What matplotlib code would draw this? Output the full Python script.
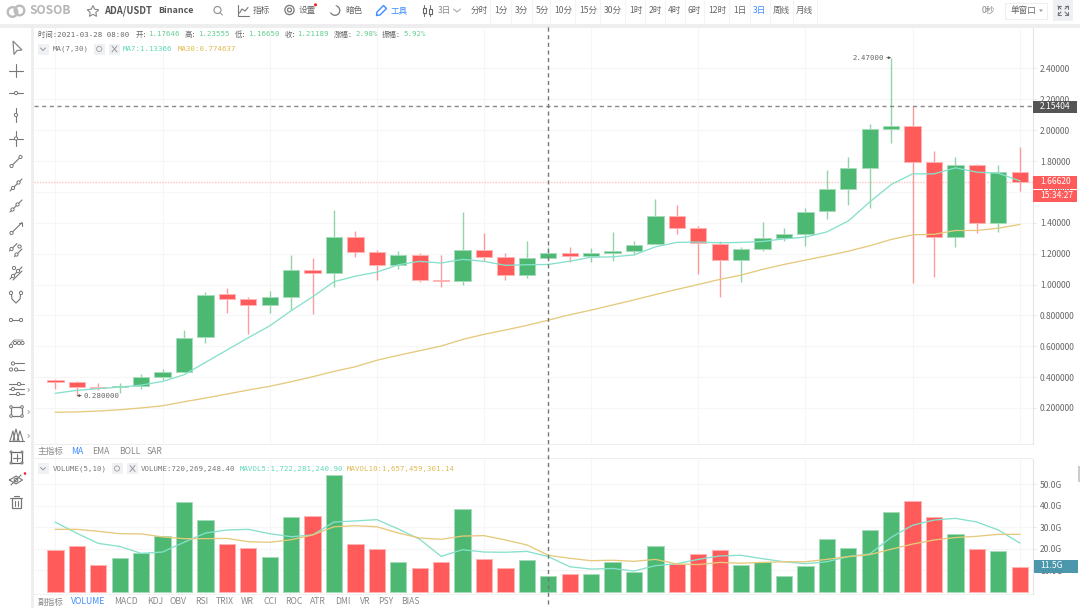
import matplotlib
matplotlib.use('Agg')
import matplotlib.pyplot as plt
from matplotlib.patches import Rectangle, Circle, Polygon

plt.rcParams['font.family'] = ['Noto Sans CJK SC', 'DejaVu Sans']

# candles, index 0 is the oldest bar
opens = [.378, .368, .337, .335, .344, .402, .435, .657, .936, .905, .865, .920, 1.091, 1.074, 1.305, 1.208,
         1.124, 1.192, 1.030, 1.024, 1.223, 1.179, 1.063, 1.171, 1.205, 1.186, 1.205, 1.216, 1.260, 1.443, 1.363,
         1.260, 1.156, 1.232, 1.303, 1.325, 1.475, 1.616, 1.758, 2.005, 2.026, 1.795, 1.309, 1.773, 1.398, 1.730]
closes = [.368, .337, .329, .342, .400, .432, .653, .929, .907, .865, .918, 1.091, 1.072, 1.305, 1.208, 1.124,
          1.192, 1.028, 1.024, 1.223, 1.179, 1.063, 1.171, 1.205, 1.186, 1.205, 1.214, 1.257, 1.443, 1.363, 1.266,
          1.156, 1.232, 1.301, 1.325, 1.473, 1.618, 1.756, 2.005, 2.026, 1.797, 1.309, 1.773, 1.398, 1.730, 1.663]
highs = [.387, .372, .363, .363, .420, .452, .703, .949, .977, .916, .957, 1.192, 1.171, 1.482, 1.346, 1.223,
         1.216, 1.203, 1.190, 1.467, 1.335, 1.203, 1.283, 1.240, 1.244, 1.236, 1.339, 1.283, 1.553, 1.514, 1.378,
         1.283, 1.244, 1.402, 1.365, 1.493, 1.745, 1.825, 2.039, 2.470, 2.154, 1.864, 1.825, 1.784, 1.773, 1.888]
lows = [.325, .280, .316, .299, .325, .379, .435, .622, .817, .681, .817, .834, .806, .985, 1.176, 1.028,
        1.102, 1.015, .981, .994, 1.153, 1.028, 1.041, 1.150, 1.147, 1.147, 1.153, 1.190, 1.260, 1.328, 1.067,
        .918, 1.018, 1.218, 1.279, 1.251, 1.424, 1.514, 1.497, 1.914, 1.007, 1.046, 1.242, 1.335, 1.341, 1.607]
ma7 = [.295, .314, .325, .335, .348, .372, .415, .495, .575, .655, .732, .830, .920, 1.018, 1.054, 1.080,
       1.128, 1.150, 1.139, 1.163, 1.150, 1.124, 1.128, 1.130, 1.151, 1.177, 1.179, 1.192, 1.244, 1.273, 1.275,
       1.270, 1.273, 1.279, 1.296, 1.307, 1.341, 1.412, 1.535, 1.648, 1.717, 1.717, 1.756, 1.728, 1.721, 1.672]
ma30 = [.172, .174, .180, .188, .200, .214, .240, .264, .290, .316, .340, .370, .402, .437, .467, .509,
        .541, .571, .601, .644, .677, .705, .735, .769, .804, .834, .867, .900, .935, .968, 1.000,
        1.033, 1.061, 1.098, 1.130, 1.158, 1.186, 1.216, 1.251, 1.292, 1.322, 1.325, 1.350, 1.350, 1.365, 1.389]

# volume pane, in G
volumes = [19.3, 21.5, 12.5, 15.9, 17.9, 26.1, 41.5, 33.2, 22.4, 20.2, 16.2, 34.7, 35.3, 54.0, 22.1, 19.9,
           13.7, 11.3, 13.7, 38.3, 15.3, 11.3, 15.0, 7.4, 8.5, 8.5, 13.7, 9.1, 21.1, 13.0, 17.7,
           19.3, 12.5, 13.7, 7.4, 12.2, 24.5, 20.2, 28.5, 37.0, 42.3, 34.6, 27.0, 19.9, 19.0, 11.5]
mavol5 = [32.3, 27.2, 22.5, 21.1, 17.9, 18.5, 23.0, 27.3, 28.7, 29.0, 27.0, 25.6, 26.4, 32.4, 32.9, 33.5,
          29.2, 24.4, 16.5, 19.6, 18.5, 18.4, 18.8, 16.4, 11.7, 10.6, 10.9, 9.7, 12.2, 13.1, 15.1,
          16.7, 17.0, 15.4, 14.0, 13.1, 14.0, 16.4, 17.6, 25.3, 30.9, 33.3, 34.1, 32.4, 28.7, 22.7]
mavol10 = [29.0, 29.0, 28.1, 27.0, 26.9, 25.5, 24.7, 24.7, 24.8, 23.3, 23.0, 24.2, 26.4, 30.2, 30.7, 30.2,
           27.3, 25.0, 24.4, 25.9, 26.1, 24.1, 21.8, 17.0, 15.6, 14.5, 14.7, 14.2, 15.1, 13.0, 12.7,
           13.7, 13.3, 13.7, 14.0, 14.0, 15.1, 16.4, 17.3, 19.8, 22.2, 24.1, 25.2, 25.8, 26.7, 26.7]

price_ticks = [0.2, 0.4, 0.6, 0.8, 1.0, 1.2, 1.4, 1.6, 1.8, 2.0, 2.2, 2.4]
price_tick_labels = ['0.200000', '0.400000', '0.600000', '0.800000', '1.00000', '1.20000',
                     '1.40000', '1.60000', '1.80000', '2.00000', '2.20000', '2.40000']
volume_ticks = [10, 20, 30, 40, 50]
volume_tick_labels = ['10.0G', '20.0G', '30.0G', '40.0G', '50.0G']
max_high = 2.47000
min_low = 0.280000
prev_high = 2.15404
last_price = 1.66620
last_volume = 11.5

RED = '#ff5b5a'
GREEN = '#4cb872'
RED_EDGE = '#ffb4b4'
GREEN_EDGE = '#a5dcbb'
TEAL = '#86e0cb'
TAN = '#e5c97c'
BLUE = '#3f8cff'
MONO = ['DejaVu Sans Mono', 'Noto Sans CJK SC']
MONO_SIZE = 5.35

W, H = 1080, 608
X0, STEP = 55.4, 21.43  # pixel centre of bar 0 and bar pitch
LEFT, RIGHT = 34, 1033


def axes_px(fig, x0, y0, x1, y1):
    """Axes placed by pixel box, y measured from the top"""
    return fig.add_axes([x0 / W, 1 - y1 / H, (x1 - x0) / W, (y1 - y0) / H])


def style_pane(ax):
    ax.set_xlim((LEFT - X0) / STEP, (RIGHT - X0) / STEP)
    ax.set_xticks(range(0, len(opens), 5))
    ax.tick_params(axis='x', length=0, labelbottom=False)
    ax.yaxis.tick_right()
    ax.tick_params(axis='y', length=2, width=0.7, color='#e6e6e6', pad=3, labelsize=6.1, labelcolor='#666666')
    ax.grid(True, color='#f6f6f6', linewidth=0.8)
    ax.set_axisbelow(True)
    for side in ['top', 'left', 'bottom']:
        ax.spines[side].set_visible(False)
    ax.spines['right'].set_color('#e6e6e6')
    ax.spines['right'].set_linewidth(0.8)


fig = plt.figure(figsize=(W / 100, H / 100), dpi=100, facecolor='white')

# price pane
ax = axes_px(fig, LEFT, 27, RIGHT, 444)
ax.set_ylim((438.8 - 444) / 154.3, (438.8 - 27) / 154.3)
style_pane(ax)
ax.set_yticks(price_ticks)
ax.set_yticklabels(price_tick_labels)

xs = list(range(len(opens)))
colors = [GREEN if c >= o else RED for o, c in zip(opens, closes)]
edges = [GREEN_EDGE if c >= o else RED_EDGE for o, c in zip(opens, closes)]
ax.vlines(xs, lows, highs, colors=colors, linewidth=1, alpha=0.6, zorder=2)
ax.bar(xs, [max(abs(c - o), 0.006) for o, c in zip(opens, closes)], width=0.76,
       bottom=[min(o, c) for o, c in zip(opens, closes)], color=colors,
       edgecolor=edges, linewidth=0.7, zorder=3)
ax.plot(xs, ma7, color=TEAL, linewidth=0.95, zorder=4)
ax.plot(xs, ma30, color=TAN, linewidth=0.95, zorder=4)
ax.axhline(prev_high, color='#888888', linewidth=1, linestyle=(0, (3, 2.5)), zorder=5)
ax.axhline(last_price, color='#ffc4c4', linewidth=1, linestyle=(0, (1, 1)), zorder=1)

# extreme labels
ax.annotate(f'{max_high:.5f}', xy=(xs[39], max_high), xytext=(-7, 0), textcoords='offset pixels',
            ha='right', va='center', fontsize=MONO_SIZE, color='#666666', family=MONO,
            arrowprops=dict(arrowstyle='-|>', color='#555555', linewidth=0.7, mutation_scale=3, shrinkA=0, shrinkB=0))
ax.annotate(f'{min_low:.6f}', xy=(xs[1], min_low), xytext=(7, 0), textcoords='offset pixels',
            ha='left', va='center', fontsize=MONO_SIZE, color='#666666', family=MONO,
            arrowprops=dict(arrowstyle='-|>', color='#555555', linewidth=0.7, mutation_scale=3, shrinkA=0, shrinkB=0))

# volume pane
ax2 = axes_px(fig, LEFT, 459, RIGHT, 594)
ax2.set_ylim(-2 / 2.16, 133 / 2.16)
style_pane(ax2)
ax2.set_yticks(volume_ticks)
ax2.set_yticklabels(volume_tick_labels)
ax2.bar(xs, volumes, width=0.76, color=colors, edgecolor=edges, linewidth=0.7, zorder=3)
ax2.plot(xs, mavol5, color=TEAL, linewidth=0.95, zorder=4)
ax2.plot(xs, mavol10, color=TAN, linewidth=0.95, zorder=4)

# chrome overlay in pixel coordinates
ui = fig.add_axes([0, 0, 1, 1], facecolor='none')
ui.set_xlim(0, W)
ui.set_ylim(H, 0)
ui.axis('off')


def txt(x, y, s, color='#666666', size=6.2, **kw):
    ui.text(x, y, s, color=color, fontsize=size, va='center', ha=kw.pop('ha', 'left'), **kw)


def box(x0, y0, x1, y1, color, **kw):
    ui.add_patch(Rectangle((x0, y0), x1 - x0, y1 - y0, facecolor=color, edgecolor='none', **kw))


def seg(points, color='#777777', lw=0.8, **kw):
    ui.plot([p[0] for p in points], [p[1] for p in points], color=color, linewidth=lw, solid_capstyle='round', **kw)


def dot(x, y, r=1.6, color='#777777', fill='white', lw=0.7):
    ui.add_patch(Circle((x, y), r, facecolor=fill, edgecolor=color, linewidth=lw, zorder=6))


# separators
box(0, 24, W, 27.5, '#eeeeee')
box(31, 24, 34, 608, '#eeeeee')
box(34, 443.5, RIGHT, 444.5, '#eeeeee')
box(34, 458, RIGHT, 459, '#eeeeee')
box(34, 594, RIGHT, 595, '#f2f2f2')
box(1077.5, 466, 1080, 482, '#cccccc')

# crosshair
seg([(548.3, 27), (548.3, 608)], color='#777777', lw=1, linestyle=(0, (3, 2.5)))

# top bar
ui.add_patch(Circle((12.5, 12), 4.8, facecolor='none', edgecolor='#bbbbbb', linewidth=1.7))
ui.add_patch(Circle((19.5, 10.5), 4.8, facecolor='none', edgecolor='#bbbbbb', linewidth=1.7))
txt(29, 10.5, 'SOSOB', color='#b5b5b5', size=8.6, fontweight='bold')
ui.add_patch(Polygon([(93, 5.5), (94.7, 9.3), (98.8, 9.7), (95.8, 12.5), (96.6, 16.4), (93, 14.3),
                      (89.4, 16.4), (90.2, 12.5), (87.2, 9.7), (91.3, 9.3)], closed=True,
                     facecolor='none', edgecolor='#888888', linewidth=0.8))
txt(104.5, 10.5, 'ADA/USDT', color='#555555', size=6.8, fontweight='bold')
txt(158, 10.5, 'Binance', color='#555555', size=6.4, fontweight='bold')
ui.add_patch(Circle((217.5, 10), 3.5, facecolor='none', edgecolor='#999999', linewidth=0.9))
seg([(220, 12.6), (222.5, 15)], color='#999999')
seg([(238, 5), (238, 15.5), (248.5, 15.5)])
seg([(239.5, 13), (242, 9), (245, 11), (248, 7.5)])
txt(253, 10.5, '指标')
ui.add_patch(Circle((289.5, 10), 4.6, facecolor='none', edgecolor='#777777', linewidth=0.9))
ui.add_patch(Circle((289.5, 10), 2, facecolor='none', edgecolor='#777777', linewidth=0.9))
txt(299, 10.5, '设置')
ui.add_patch(Circle((315.5, 4.8), 1.5, facecolor='#ee2222', edgecolor='none'))
ui.add_patch(Circle((335, 10.5), 4.8, facecolor='none', edgecolor='#777777', linewidth=0.9))
ui.add_patch(Circle((332.5, 8.5), 4.4, facecolor='white', edgecolor='none'))
txt(345, 10.5, '暗色')
seg([(376.5, 15.5), (377, 12), (383.5, 5.5), (386.5, 8.5), (380, 15), (376.5, 15.5)], color=BLUE, lw=1)
txt(391, 10.5, '工具', color=BLUE)
seg([(424, 5), (424, 16)])
seg([(430, 5), (430, 16)])
ui.add_patch(Rectangle((422.5, 7.5), 3, 5.5, facecolor='white', edgecolor='#666666', linewidth=0.8, zorder=5))
ui.add_patch(Rectangle((428.5, 8.5), 3, 5.5, facecolor='white', edgecolor='#666666', linewidth=0.8, zorder=5))
txt(438, 10.5, '3日', color='#888888')
seg([(453.5, 9), (457, 12), (460.5, 9)], color='#aaaaaa')

period_x = [471, 494, 515, 536, 554, 579, 604, 629, 649, 668, 688, 708, 733, 753, 773, 796]
period_labels = ['分时', '1分', '3分', '5分', '10分', '15分', '30分', '1时', '2时', '4时', '6时', '12时', '1日', '3日', '周线', '月线']
for px, label in zip(period_x, period_labels):
    txt(px, 10.5, label, color=BLUE if (label == '3日') else '#666666')
for px in [490, 511, 532, 550, 575, 600, 625, 645, 665, 685, 704, 729, 750, 770, 793, 817]:
    seg([(px, 0), (px, 24)], color='#f4f4f4', lw=0.8)

txt(982, 10.5, '0秒', color='#888888')
ui.add_patch(Rectangle((1005, 2.5), 42, 16.5, facecolor='white', edgecolor='#efefef', linewidth=0.8))
txt(1011, 10.5, '单窗口')
ui.add_patch(Polygon([(1039, 9.5), (1043, 9.5), (1041, 12)], closed=True, facecolor='#999999', edgecolor='none'))
box(1053, 0, 1073, 21, '#eef0f4')
for (cx, cy, dx, dy) in [(1058, 6, 1, 1), (1068, 6, -1, 1), (1058, 15, 1, -1), (1068, 15, -1, -1)]:
    seg([(cx, cy), (cx + 3 * dx, cy + 3 * dy)])
    seg([(cx, cy), (cx + 3 * dx, cy)])
    seg([(cx, cy), (cx, cy + 3 * dy)])

# ohlc header
header = [(38, '时间:2021-03-28 08:00', '#666666'), (135.5, '开:', '#666666'), (148, '1.17646', '#62cf8f'),
          (185, '高:', '#666666'), (198, '1.23555', '#62cf8f'), (234.5, '低:', '#666666'), (247.6, '1.16650', '#62cf8f'),
          (284.5, '收:', '#666666'), (297, '1.21189', '#62cf8f'), (334, '涨幅:', '#666666'), (355, '2.98%', '#62cf8f'),
          (382, '振幅:', '#666666'), (403, '5.92%', '#62cf8f')]
for px, label, color in header:
    txt(px, 34.5, label, color=color, size=MONO_SIZE, family=MONO)


def legend_btn(x, y):
    box(x, y - 5.5, x + 10.5, y + 5.5, '#f0f1f4')


# ma legend
legend_btn(38, 49)
seg([(40.5, 48), (43, 50.5), (45.5, 48)], color='#999999', lw=0.7)
txt(53, 49, 'MA(7,30)', color='#777777', size=MONO_SIZE, family=MONO)
legend_btn(94, 49)
ui.add_patch(Circle((99.2, 49), 2.6, facecolor='none', edgecolor='#aaaaaa', linewidth=0.7))
legend_btn(109, 49)
seg([(112, 46), (117, 52)], color='#999999', lw=0.7)
seg([(117, 46), (112, 52)], color='#999999', lw=0.7)
txt(123, 49, 'MA7:1.13366', color='#5fd8bb', size=MONO_SIZE, family=MONO)
txt(177.6, 49, 'MA30:0.774637', color='#e0b94f', size=MONO_SIZE, family=MONO)

# volume legend
legend_btn(38, 468.5)
seg([(40.5, 467.5), (43, 470), (45.5, 467.5)], color='#999999', lw=0.7)
txt(53, 468.5, 'VOLUME(5,10)', color='#777777', size=MONO_SIZE, family=MONO)
legend_btn(112, 468.5)
ui.add_patch(Circle((117, 468.5), 2.6, facecolor='none', edgecolor='#aaaaaa', linewidth=0.7))
legend_btn(127, 468.5)
seg([(130, 465.5), (135, 471.5)], color='#999999', lw=0.7)
seg([(135, 465.5), (130, 471.5)], color='#999999', lw=0.7)
txt(141, 468.5, 'VOLUME:720,269,248.40', color='#777777', size=MONO_SIZE, family=MONO)
txt(240, 468.5, 'MAVOL5:1,722,281,240.90', color='#5fd8bb', size=MONO_SIZE, family=MONO)
txt(347, 468.5, 'MAVOL10:1,657,459,301.14', color='#e0b94f', size=MONO_SIZE, family=MONO)

# indicator tabs
main_tabs = [(38, '主指标'), (70.7, 'MA'), (92.4, 'EMA'), (119, 'BOLL'), (147, 'SAR')]
for px, label in main_tabs:
    txt(px, 451.5, label, color=BLUE if label == 'MA' else '#888888', size=6.2)
sub_tabs = [(38, '副指标'), (70.7, 'VOLUME'), (113.8, 'MACD'), (147, 'KDJ'), (169.7, 'OBV'), (195, 'RSI'), (216, 'TRIX'),
            (241, 'WR'), (264, 'CCI'), (285, 'ROC'), (310, 'ATR'), (335, 'DMI'), (360, 'VR'), (378.6, 'PSY'), (401, 'BIAS')]
for px, label in sub_tabs:
    txt(px, 602, label, color=BLUE if label == 'VOLUME' else '#888888', size=6.2)

# value tags on the right axis
tag_px = [(100.5, 113, '#555555', f'{prev_high:.5f}'), (175.5, 188.5, RED, f'{last_price:.5f}')]
for y0, y1, color, label in tag_px:
    box(RIGHT, y0, 1077, y1, color, zorder=7)
    ui.text(1040, (y0 + y1) / 2, label, color='white', fontsize=6.1, va='center', zorder=8)
box(RIGHT, 189.5, 1077, 201.5, RED, zorder=7)
ui.text(1040, 195.5, '15:34:27', color='white', fontsize=6.1, va='center', zorder=8)
box(RIGHT + 1, 559.5, 1078, 572.5, '#4392a8', alpha=0.95, zorder=7)
ui.text(1040, 566, f'{last_volume}G', color='white', fontsize=6.1, va='center', zorder=8)

# left drawing tools
ui.add_patch(Polygon([(13, 41), (22, 50), (17, 50.5), (14, 54.5)], closed=True, facecolor='none', edgecolor='#888888', linewidth=0.9))
seg([(9, 70.5), (23, 70.5)])
seg([(16, 64), (16, 77)])
seg([(9, 93), (23, 93)])
dot(16, 93)
seg([(16, 108), (16, 122)])
dot(16, 115)
seg([(9, 138.5), (23, 138.5)])
seg([(16, 131), (16, 146)])
dot(16, 138.5)
seg([(11.5, 166), (20.5, 157)])
dot(11.5, 166)
dot(20.5, 157)
seg([(10, 191), (22, 179)])
dot(13, 188)
dot(18.5, 182.5)
seg([(10, 212), (22, 200)])
dot(12.5, 209.5)
dot(17.5, 204.5)
seg([(11.5, 233), (22, 222.5)])
dot(11.5, 233)
seg([(18.5, 222.5), (22, 222.5), (22, 226)])
seg([(9.5, 251), (17, 243.5)])
seg([(14.5, 256.5), (22, 249)])
dot(11.5, 249)
dot(19.5, 246.5)
dot(16.5, 254.5)
seg([(10, 279), (22, 267)])
seg([(13, 280), (22, 271)])
dot(13, 276)
dot(18, 271)
dot(14, 268)
seg([(11, 291), (12, 299), (16, 303), (20, 299), (21, 291)])
dot(11, 293)
dot(21, 293)
seg([(11, 320), (21, 320)])
dot(11, 320)
dot(21, 320)
seg([(9, 346), (14, 340), (23, 340)], lw=0.5)
for px in [11, 15, 19, 22.5]:
    dot(px, 343 if px != 11 else 346)
seg([(15, 363), (24, 363)])
seg([(15, 370), (24, 370)])
dot(13, 363.5)
dot(11, 369.5)
dot(16, 369.5)
seg([(9, 384), (24, 384)])
seg([(9, 389), (24, 389)])
seg([(9, 394), (24, 394)])
dot(19, 384)
dot(13, 389)
dot(18, 394)
ui.add_patch(Rectangle((11, 407), 11, 9, facecolor='none', edgecolor='#777777', linewidth=0.9))
for cx, cy in [(11, 407), (22, 407), (11, 416), (22, 416)]:
    dot(cx, cy, r=1.3)
seg([(10, 441), (13, 431), (15, 441)])
seg([(13, 441), (16, 429), (19, 441)])
seg([(17, 441), (20, 431), (23, 441)])
seg([(9, 441), (24, 441)])
ui.add_patch(Rectangle((11, 452), 11, 11, facecolor='none', edgecolor='#666666', linewidth=0.9))
seg([(16.5, 454), (16.5, 461)])
seg([(13, 457.5), (20, 457.5)])
for cx, cy in [(11, 452), (22, 452), (11, 463), (22, 463)]:
    dot(cx, cy, r=1)
seg([(9.5, 480), (16, 476), (22.5, 480), (16, 484), (9.5, 480)])
ui.add_patch(Circle((16, 480), 1.8, facecolor='none', edgecolor='#777777', linewidth=0.8))
seg([(11, 485), (21, 475)])
ui.add_patch(Circle((25, 473.5), 1.3, facecolor='#ee2222', edgecolor='none'))
ui.add_patch(Rectangle((11.5, 498), 9, 10, facecolor='none', edgecolor='#777777', linewidth=0.9))
seg([(10, 498), (22, 498)])
seg([(13.5, 495.5), (18.5, 495.5)])
seg([(14.5, 500.5), (14.5, 505.5)])
seg([(17.5, 500.5), (17.5, 505.5)])
for ty in [390, 412, 436]:
    seg([(28, ty - 1.5), (29.5, ty), (28, ty + 1.5)], color='#999999', lw=0.6)

plt.savefig('out.png', dpi=100)
plt.close()
